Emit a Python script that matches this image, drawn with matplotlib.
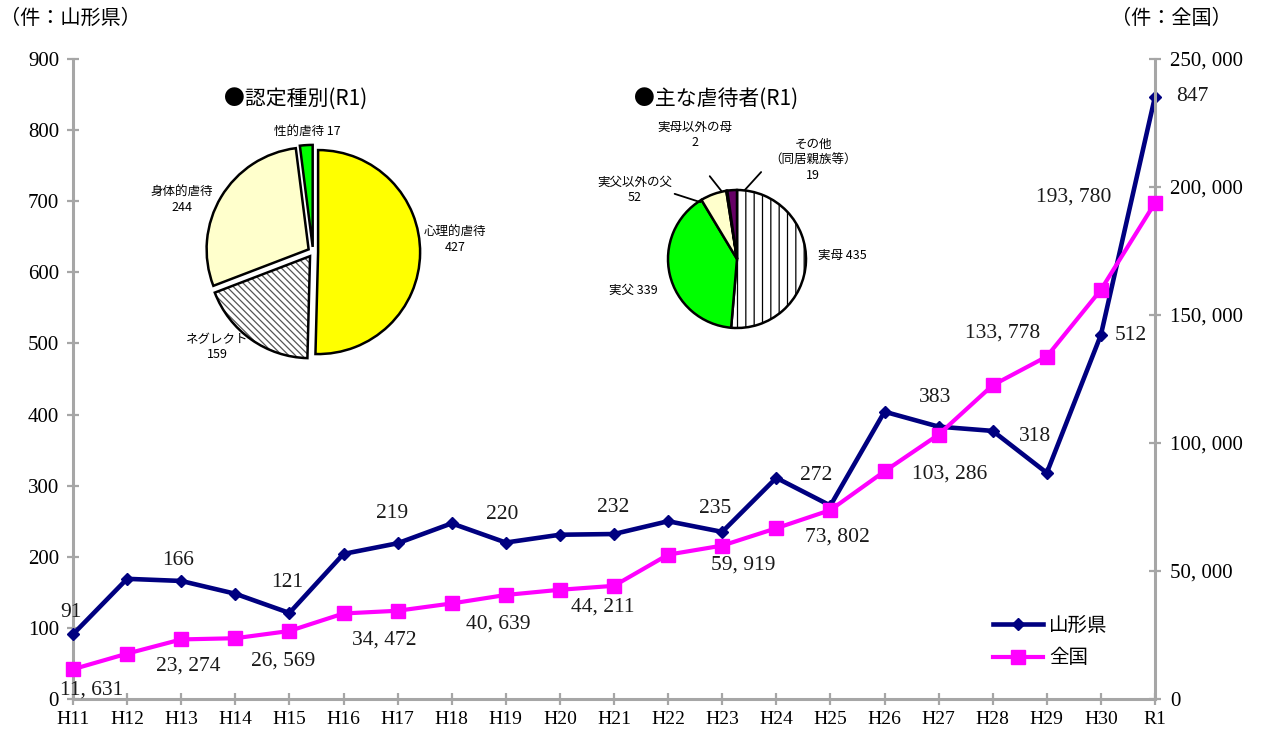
import matplotlib
matplotlib.use("Agg")
import matplotlib.pyplot as plt
from matplotlib.patches import Wedge

# --- data ---
years = ["H11", "H12", "H13", "H14", "H15", "H16", "H17", "H18", "H19", "H20", "H21",
         "H22", "H23", "H24", "H25", "H26", "H27", "H28", "H29", "H30", "R1"]
yamagata = [91, 169, 166, 148, 121, 204, 219, 247, 220, 231, 232,
            250, 235, 311, 272, 404, 383, 377, 318, 512, 847]
national = [11631, 17725, 23274, 23738, 26569, 33408, 34472, 37323, 40639, 42664, 44211,
            56384, 59919, 66701, 73802, 88931, 103286, 122575, 133778, 159850, 193780]

type_labels = ["心理的虐待\n427", "ネグレクト\n159", "身体的虐待\n244", "性的虐待 17"]
type_values = [427, 159, 244, 17]
abuser_labels = ["実母 435", "実父 339", "実父以外の父\n52", "実母以外の母\n2", "その他\n（同居親族等）\n19"]
abuser_values = [435, 339, 52, 2, 19]

# which points get a value label, and where (pixel offsets)
yam_label_pos = {0: (-2, 22), 2: (-3, 20), 4: (-2, 30), 6: (-6, 30), 8: (-4, 28), 10: (-1, 27),
                 12: (-7, 23), 14: (-14, 30), 16: (-4, 29), 18: (-12, 36), 19: (30, -1), 20: (37, 0)}
nat_label_pos = {0: (19, -21), 2: (7, -27), 4: (-6, -30), 6: (-13, -29), 8: (-8, -29), 10: (-11, -21),
                 12: (21, -19), 14: (7, -27), 16: (11, -39), 18: (-44, 23), 20: (-81, 6)}

W, H = 1266, 734
NAVY = "#000080"
MAGENTA = "#FF00FF"
GREY = "#A6A6A6"
SERIF = ["Liberation Serif", "Noto Sans CJK JP"]
SANS = ["Noto Sans CJK JP", "DejaVu Sans"]

plt.rcParams["font.family"] = SERIF
plt.rcParams["hatch.linewidth"] = 0.9

fig = plt.figure(figsize=(W / 100, H / 100), dpi=100)
ax = fig.add_axes([73 / W, 1 - 699 / H, (1155 - 73) / W, (699 - 59) / H])
ax2 = ax.twinx()

x = list(range(len(years)))
l1, = ax.plot(x, yamagata, color=NAVY, lw=3.3, marker="D", markersize=6.5, clip_on=False, zorder=3)
l2, = ax2.plot(x, national, color=MAGENTA, lw=3.0, marker="s", markersize=10.5, clip_on=False, zorder=3)

ax.set_xlim(0, 20)
ax.set_ylim(0, 900)
ax2.set_ylim(0, 250000)
ax.set_yticks(range(0, 1000, 100))
ax2.set_yticks(range(0, 250001, 50000))
ax2.set_yticklabels([f"{v:,}".replace(",", ", ") for v in range(0, 250001, 50000)])
ax.set_xticks(x)
ax.set_xticklabels(years)

for a in (ax, ax2):
    a.spines["top"].set_visible(False)
    for s in ("left", "right", "bottom"):
        a.spines[s].set_color(GREY)
        a.spines[s].set_linewidth(2.2)
ax.spines["right"].set_visible(False)
ax2.spines["left"].set_visible(False)
ax2.spines["bottom"].set_visible(False)

ax.tick_params(axis="y", direction="inout", length=8, width=1.6, color=GREY, labelsize=15, pad=6)
ax.tick_params(axis="x", direction="inout", length=8, width=1.6, color=GREY, labelsize=14, pad=5)
ax2.tick_params(axis="y", direction="inout", length=8, width=1.6, color=GREY, labelsize=15, pad=7)

for i, (dx, dy) in yam_label_pos.items():
    ax.annotate(str(yamagata[i]), (i, yamagata[i]), xytext=(dx, dy), textcoords="offset pixels",
                ha="center", va="center", fontsize=15.5, color="#1a1a1a")
for i, (dx, dy) in nat_label_pos.items():
    ax2.annotate(f"{national[i]:,}".replace(",", ", "), (i, national[i]), xytext=(dx, dy),
                 textcoords="offset pixels", ha="center", va="center", fontsize=15.5, color="#1a1a1a")

# legend
ax2.legend([l1, l2], ["山形県", "全国"], loc="upper left", bbox_to_anchor=(985 / W, 1 - 607 / H),
           bbox_transform=fig.transFigure, frameon=False, prop={"family": SANS, "size": 14},
           handlelength=2.6, handletextpad=0.3, labelspacing=0.6, borderaxespad=0)

# unit labels
fig.text(0, 1 - 18 / H, "（件：山形県）", fontsize=14.5, family=SANS, ha="left", va="center")
fig.text(1171 / W, 1 - 18 / H, "（件：全国）", fontsize=14.5, family=SANS, ha="center", va="center")


def pie_axes(cx, cy, r, span):
    w = 2 * span * r
    return fig.add_axes([(cx - span * r) / W, 1 - (cy + span * r) / H, w / W, w / H])


def px(c, p):
    cx, cy, r = c
    return ((p[0] - cx) / r, (cy - p[1]) / r)


# pie 1: 認定種別
c1 = (313, 252, 102)
pa1 = pie_axes(*c1, span=1.7)
wedges, _ = pa1.pie(type_values, startangle=90, counterclock=False,
                    colors=["#FFFF00", "white", "#FFFFCC", "#00FF00"],
                    explode=[0.05] * 4,
                    wedgeprops=dict(edgecolor="black", linewidth=1.8))
# grey hatch inside, black outline on top
w = wedges[1]
w.set_hatch("\\\\\\\\\\")
w.set_edgecolor("#555555")
w.set_linewidth(0)
pa1.add_patch(Wedge(w.center, w.r, w.theta1, w.theta2, fill=False, edgecolor="black", linewidth=1.8))
pa1.set_xlim(-1.7, 1.7)
pa1.set_ylim(-1.7, 1.7)
pa1.axis("off")
for lab, p in zip(type_labels, [(455, 240), (217, 347), (182, 200), (307, 132)]):
    pa1.text(*px(c1, p), lab, family=SANS, fontsize=9, ha="center", va="center", linespacing=1.25)

# pie 2: 主な虐待者
c2 = (737, 259, 69)
pa2 = pie_axes(*c2, span=2.2)
wedges2, _ = pa2.pie(abuser_values, startangle=90, counterclock=False,
                     colors=["white", "#00FF00", "#FFFFCC", "white", "#660066"],
                     wedgeprops=dict(edgecolor="black", linewidth=1.8))
wedges2[0].set_hatch("||")
pa2.set_xlim(-2.2, 2.2)
pa2.set_ylim(-2.2, 2.2)
pa2.axis("off")
for lab, p in zip(abuser_labels, [(842, 255), (633, 290), (635, 190), (695, 135), (813, 160)]):
    pa2.text(*px(c2, p), lab, family=SANS, fontsize=9, ha="center", va="center", linespacing=1.25)
for a, b in [((672, 193), (703, 203)), ((708, 174), (723, 193)), ((763, 170), (743, 192))]:
    pa2.annotate("", xy=px(c2, b), xytext=px(c2, a), arrowprops=dict(arrowstyle="-", lw=1.3, color="black"))

fig.text(296 / W, 1 - 99 / H, "●認定種別(R1)", family=SANS, fontsize=15, ha="center", va="center")
fig.text(716 / W, 1 - 99 / H, "●主な虐待者(R1)", family=SANS, fontsize=15, ha="center", va="center")

fig.savefig("out.png", dpi=100)
